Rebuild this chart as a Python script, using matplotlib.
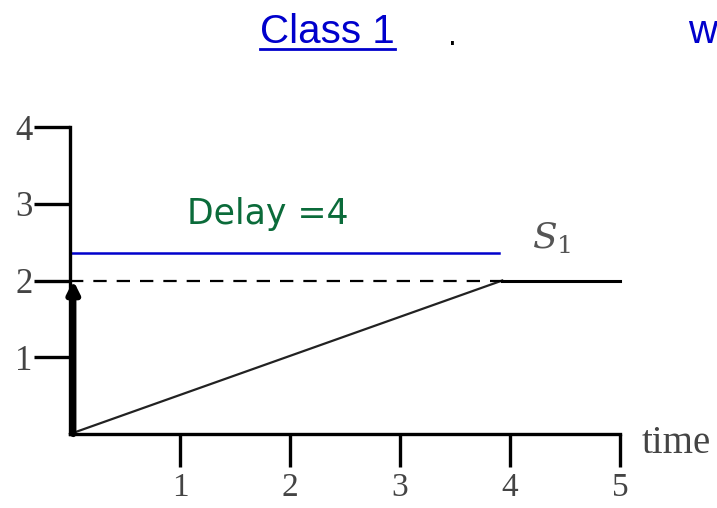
import matplotlib
matplotlib.use('Agg')
import matplotlib.pyplot as plt
from matplotlib.lines import Line2D

# data
ramp_x = [0, 3.93]
ramp_y = [0, 2]
level_dash_x = [0, 3.93]
level_solid_x = [3.93, 5]
level_y = 2
delay_line_x = [0.02, 3.9]
delay_line_y = 2.36
x_ticks = [1, 2, 3, 4, 5]
y_ticks = [1, 2, 3, 4]

W, H = 717, 508
fig = plt.figure(figsize=(W / 100, H / 100), dpi=100)

# axes box: origin at px (70, 434), x=5 at px 620, y=4 at px 127
ax = fig.add_axes([70 / W, (H - 434) / H, 550 / W, 307 / H])
ax.set_xlim(0, 5)
ax.set_ylim(0, 4)
for side in ('top', 'right'):
    ax.spines[side].set_visible(False)
for side in ('left', 'bottom'):
    ax.spines[side].set_linewidth(2.4)

serif = 'Liberation Serif'
ax.set_xticks(x_ticks)
ax.set_yticks(y_ticks)
ax.tick_params(axis='x', direction='out', length=24, width=2.4, pad=4,
               labelsize=24, labelcolor='#444444')
ax.tick_params(axis='y', direction='out', length=26, width=2.4, pad=1,
               labelsize=25, labelcolor='#444444')
for lab in ax.get_xticklabels() + ax.get_yticklabels():
    lab.set_family(serif)

# the ramp and the level
ax.plot(ramp_x, ramp_y, color='#222222', lw=1.6, clip_on=False)
ax.plot(level_dash_x, [level_y, level_y], color='black', lw=1.6,
        linestyle=(0, (6, 4.5)), clip_on=False)
ax.plot(level_solid_x, [level_y, level_y], color='black', lw=2.2, clip_on=False)

# delay line (blue)
ax.plot(delay_line_x, [delay_line_y, delay_line_y], color='#0000CC', lw=1.8,
        clip_on=False)

# thick arrow up the y axis
ax.annotate('', xy=(0.03, level_y), xytext=(0.03, 0),
            arrowprops=dict(arrowstyle='-|>,head_length=0.7,head_width=0.35',
                            lw=4.5, color='black', shrinkA=0, shrinkB=0),
            annotation_clip=False)

ax.text(1.06, 2.86, 'Delay =4', color='#0B6B3A', fontsize=25,
        family='DejaVu Sans', ha='left', va='center')
ax.text(4.2, 2.55, r'$S_1$', color='#555555', fontsize=26,
        math_fontfamily='dejavuserif', ha='left', va='center')
ax.text(5.2, -0.13, 'time', color='#444444', fontsize=28, family=serif,
        ha='left', va='center', clip_on=False)

# title bits at the top
title = fig.text(260 / W, 1 - 43 / H, 'Class 1', color='#0000CC', fontsize=29,
                 family='Liberation Sans', ha='left', va='baseline')
fig.text(448 / W, 1 - 45 / H, '.', color='black', fontsize=20,
         family='DejaVu Sans', ha='left', va='baseline')
fig.text(688 / W, 1 - 43 / H, 'w', color='#0000CC', fontsize=29,
         family='Liberation Sans', ha='left', va='baseline')

# underline the link-like title
fig.canvas.draw()
bb = title.get_window_extent()
fig.add_artist(Line2D([bb.x0 / W, bb.x1 / W], [1 - 49 / H, 1 - 49 / H],
                      color='#0000CC', lw=2, transform=fig.transFigure))

fig.savefig('out.png', dpi=100)
